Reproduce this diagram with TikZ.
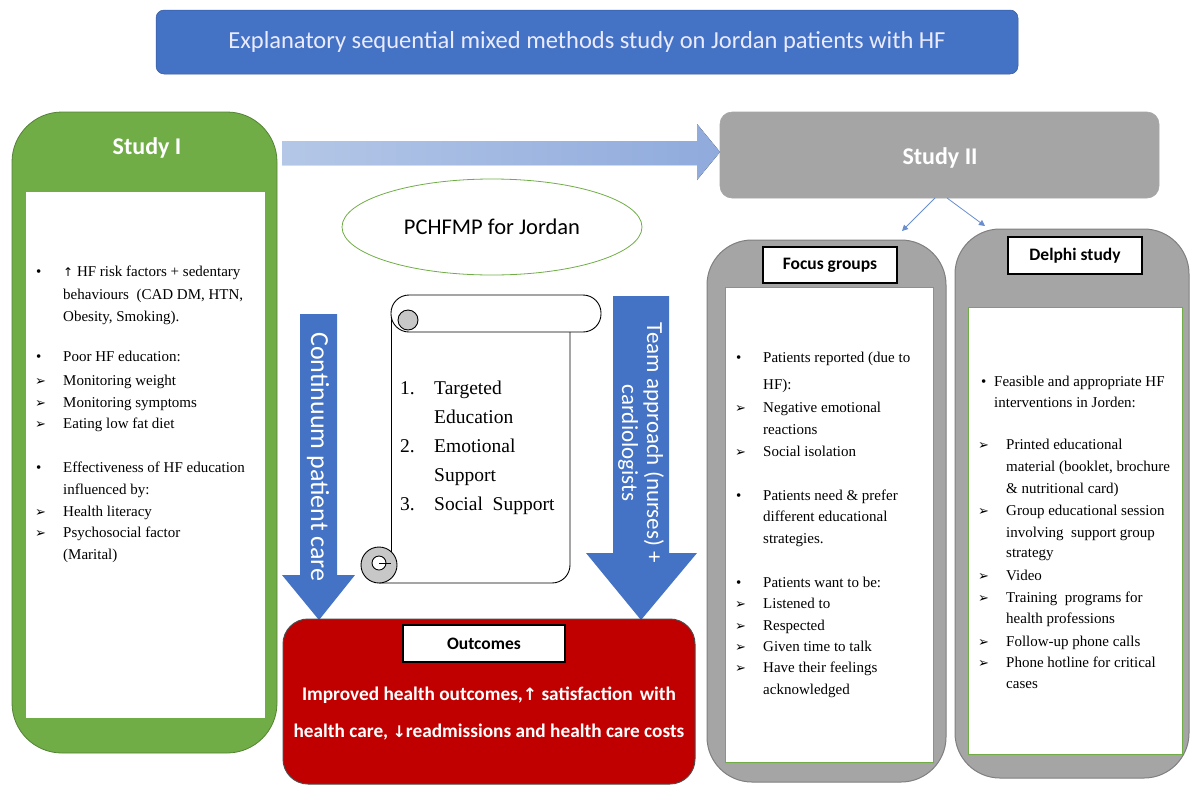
\documentclass[tikz,border=0pt]{standalone}
\usepackage{fontspec}
\setmainfont{Liberation Serif}
\newfontfamily\calfont{Carlito}
\newfontfamily\dvsfont{DejaVu Sans}
\usetikzlibrary{shapes.geometric,arrows.meta}
\definecolor{hblue}{HTML}{4472C4}
\definecolor{hgreen}{HTML}{70AD47}
\definecolor{hgreenD}{HTML}{548235}
\definecolor{hgray}{HTML}{A5A5A5}
\definecolor{hgrayD}{HTML}{7F7F7F}
\definecolor{hred}{HTML}{C00000}
\definecolor{lblueA}{HTML}{B4C7E7}
\definecolor{lblueB}{HTML}{8FAADC}
\newcommand\mkbox[7]{\node[#6, minimum width={(#4-#2)*1pt}, minimum height={(#5-#3)*1pt}, inner sep=0pt, outer sep=0pt] (#1) at ({(#2+#4)/2},{(#3+#5)/2}) {#7};}
\newcommand\uparr{{\dvsfont\fontsize{12}{14}\selectfont ↑}}
\newcommand\dnarr{{\dvsfont\fontsize{16}{18}\selectfont ↓}}
\newcommand\uparrb{{\dvsfont\fontsize{17}{18}\selectfont ↑}}
\newcommand\pointer{{\dvsfont\fontsize{13}{15}\selectfont ➢}}
\tikzset{
  txt/.style={font=\fontsize{15}{18}\selectfont, inner sep=0pt, anchor=mid west, yshift=-2.5pt},
  scrolltxt/.style={font=\fontsize{19.5}{22}\selectfont, inner sep=0pt, anchor=mid west},
  labelbox/.style={fill=white, draw=black, line width=1.2pt, font=\calfont\bfseries\fontsize{17.5}{19}\selectfont},
  graybox/.style={fill=hgray, draw=hgrayD, line width=1pt, rounded corners=45pt},
  innerbox/.style={fill=white, draw=hgreen, line width=0.6pt},
  bigarrow/.style={fill=hblue},
  smallarrow/.style={draw=hblue!80, line width=0.8pt, -{Triangle[length=6pt,width=6pt]}},
  headtxt/.style={text=white, font=\calfont\bfseries\fontsize{24}{28}\selectfont},
}
\begin{document}
\begin{tikzpicture}[x=1pt,y=-1pt]
\useasboundingbox (0,0) rectangle (1190,785);
% title
\mkbox{title}{156}{10}{1018}{74}{fill=hblue, draw=hblue!80!black, line width=0.5pt, rounded corners=8pt, text=white!92!blue, font=\calfont\fontsize{24.5}{28}\selectfont}{Explanatory sequential mixed methods study on Jordan patients with HF}
% Study I
\mkbox{s1}{12}{112}{277}{753}{fill=hgreen, draw=hgreenD, line width=0.8pt, rounded corners=50pt}{}
\mkbox{s1in}{26}{192}{265}{718}{fill=white}{}
\node[headtxt] (s1t) at (147,148) {Study I};
% big light arrow
\fill[left color=lblueA, right color=lblueB] (282,141) -- (697,141) -- (697,124) -- (720,152) -- (697,180) -- (697,165) -- (282,165) -- cycle;
% Study II
\mkbox{s2}{720}{112}{1159}{198}{fill=hgray, draw=hgrayD!70, line width=0.6pt, rounded corners=12pt}{}
\node[headtxt] (s2t) at (940,158) {Study II};
% focus groups
\mkbox{fg}{707}{240}{946}{782}{graybox}{}
\mkbox{fgin}{725}{287}{933}{762}{innerbox}{}
\mkbox{fgl}{763}{247}{897}{283}{labelbox}{Focus groups}
% delphi
\mkbox{dp}{955}{229}{1189}{778}{graybox}{}
\mkbox{dpin}{968}{307}{1182}{754}{innerbox}{}
\mkbox{dpl}{1008}{237}{1142}{274}{labelbox}{Delphi study}
% small arrows
\coordinate (fgend) at (902,231);
\coordinate (dpend) at (985,226);
\draw[smallarrow] ([xshift=-4.5pt]s2.south) -- (fgend);
\draw[smallarrow] ([xshift=7.5pt]s2.south) -- (dpend);
% ellipse
\node[ellipse, draw=hgreen, line width=0.8pt, minimum width=300pt, minimum height=96pt, font=\calfont\fontsize{22.5}{26}\selectfont] (pc) at (492,227) {PCHFMP for Jordan};
% blue arrows
\fill[bigarrow] (300,314) -- (337,314) -- (337,575) -- (355,575) -- (319,620) -- (282,575) -- (300,575) -- cycle;
\node[rotate=-90, text=white, font=\calfont\fontsize{26}{28}\selectfont] (cpc) at (318,457) {Continuum patient care};
\fill[bigarrow] (613,296) -- (669,296) -- (669,553) -- (697,553) -- (641,620) -- (586,553) -- (613,553) -- cycle;
\node[rotate=-90, text=white, align=center, font=\calfont\fontsize{23}{25}\selectfont] (team) at (641,443) {Team approach (nurses) +\\cardiologists};
% scroll
\fill[white] (391,313) rectangle (570,583);
\draw[line width=0.9pt] (391,313) -- (391,565);
\draw[line width=0.9pt, rounded corners=18pt] (570,330) -- (570,583) -- (379,583);
\draw[line width=0.9pt, fill=white, rounded corners=18pt] (391,295) rectangle (601,332);
\draw[line width=0.9pt, fill=black!22] (408,320) circle[radius=10pt];
\draw[line width=0.9pt, fill=black!22] (379,565) circle[radius=18pt];
\draw[line width=0.9pt, fill=white] (379,563) circle[radius=7pt];
\draw[line width=0.9pt] (379,563) -- (391,563);
\foreach \ty/\tx [count=\i] in {392/{1.}, 450/{2.}, 508/{3.}} \node[scrolltxt] (sn\i) at (400,\ty) {\tx};
\foreach \ty/\tx [count=\i] in {392/{Targeted}, 421/{Education}, 450/{Emotional}, 479/{Support}, 508/{Social\ \ Support}} \node[scrolltxt] (st\i) at (434,\ty) {\tx};
% outcomes
\mkbox{oc}{283}{619}{695}{784}{fill=hred, draw=black!70, line width=1pt, rounded corners=25pt}{}
\mkbox{ocl}{403}{625}{565}{662}{labelbox}{Outcomes}
\node[text=white, align=center, font=\calfont\bfseries\fontsize{19.3}{37}\selectfont] (oct) at (489,714) {Improved health outcomes,\uparrb\ satisfaction\hspace{7pt}with\\health care, \dnarr readmissions and health care costs};
% Study I text
\foreach \ty/\tx [count=\i] in {272/{\uparr\ HF risk factors + sedentary}, 295/{behaviours\ \ (CAD DM, HTN,}, 317/{Obesity, Smoking).}, 357/{Poor HF education:}, 381/{Monitoring weight}, 403/{Monitoring symptoms}, 424/{Eating low fat diet}, 468/{Effectiveness of HF education}, 490/{influenced by:}, 512/{Health literacy}, 533/{Psychosocial factor}, 555/{(Marital)}} \node[txt] (a\i) at (63,\ty) {\tx};
\foreach \ty [count=\i] in {272,357,468} \node[txt] (ab\i) at (36,\ty) {•};
\foreach \ty [count=\i] in {381,403,424,512,533} \node[txt] (ap\i) at (35,\ty) {\pointer};
% Focus text
\foreach \ty/\tx [count=\i] in {358/{Patients reported (due to}, 385/{HF):}, 408/{Negative emotional}, 430/{reactions}, 452/{Social isolation}, 496/{Patients need \& prefer}, 517/{different educational}, 539/{strategies.}, 583/{Patients want to be:}, 604/{Listened to}, 626/{Respected}, 647/{Given time to talk}, 668/{Have their feelings}, 690/{acknowledged}} \node[txt] (f\i) at (763,\ty) {\tx};
\foreach \ty [count=\i] in {358,496,583} \node[txt] (fb\i) at (736,\ty) {•};
\foreach \ty [count=\i] in {408,452,604,626,647,668} \node[txt] (fp\i) at (735,\ty) {\pointer};
% Delphi text
\foreach \ty/\tx [count=\i] in {382/{Feasible and appropriate HF}, 403/{interventions in Jorden:}} \node[txt] (d\i) at (994,\ty) {\tx};
\node[txt] (db1) at (981,382) {•};
\foreach \ty/\tx [count=\i] in {445/{Printed educational}, 467/{material (booklet, brochure}, 489/{\& nutritional card)}, 511/{Group educational session}, 533/{involving\ \ support group}, 553/{strategy}, 576/{Video}, 598/{Training\ \ programs for}, 619/{health professions}, 642/{Follow-up phone calls}, 663/{Phone hotline for critical}, 684/{cases}} \node[txt] (e\i) at (1006,\ty) {\tx};
\foreach \ty [count=\i] in {445,511,576,598,642,663} \node[txt] (dp\i) at (978,\ty) {\pointer};
\end{tikzpicture}
\end{document}
